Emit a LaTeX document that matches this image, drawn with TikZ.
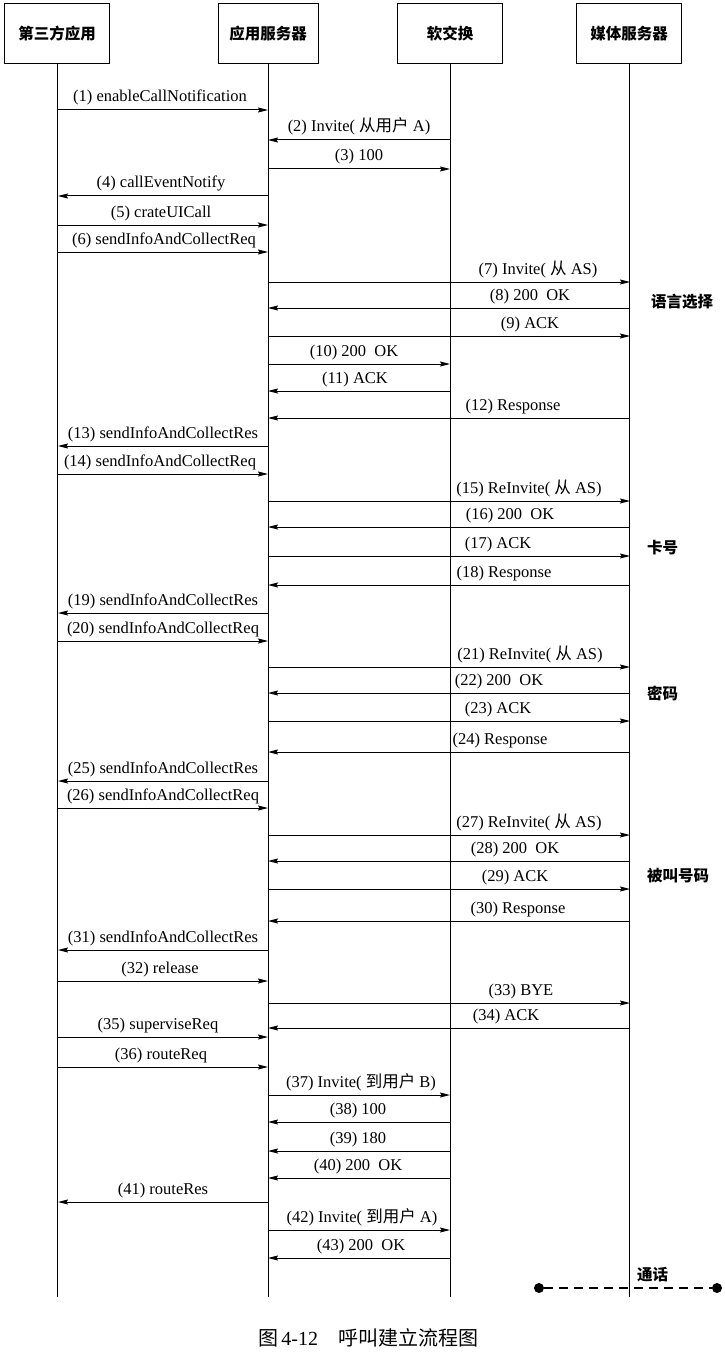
\documentclass[tikz,border=0pt]{standalone}
\usepackage{fontspec}
\setmainfont{Liberation Serif}
\newfontfamily\cjk{Noto Sans CJK SC}
\usetikzlibrary{arrows.meta}
\def\xA{58}\def\xB{268}\def\xC{450}\def\xD{630}
\newcommand\msg[6]{%
  \coordinate (s#1) at (\csname x#3\endcsname,#2);
  \coordinate (e#1) at (\csname x#4\endcsname,#2);
  \draw[msgarrow] (s#1) -- (e#1);
  \node[lbl] (t#1) at (#5,{#2-8}) {#6};
}
\tikzset{
  actor/.style={draw, line width=1pt, minimum width=105pt, minimum height=60pt, inner sep=0pt, font=\cjk\bfseries\fontsize{15.5}{18}\selectfont},
  life/.style={line width=1pt},
  msgarrow/.style={line width=1pt, -{Stealth[length=10pt,width=5pt,inset=1.5pt]}},
  lbl/.style={anchor=base, inner sep=0pt, font=\fontsize{16.5}{19}\selectfont},
  side/.style={anchor=west, inner sep=0pt, font=\cjk\bfseries\fontsize{15.5}{18}\selectfont},
  dot/.style={circle, fill=black, minimum size=10pt, inner sep=0pt},
}
\begin{document}
\begin{tikzpicture}[x=1pt,y=-1pt]
\useasboundingbox (0,0) rectangle (724,1359);
\node[actor] (A) at (57,34) {第三方应用};
\node[actor, minimum width=100pt] (B) at (268,34) {应用服务器};
\node[actor] (C) at (450,34) {软交换};
\node[actor] (D) at (629,34) {媒体服务器};
\coordinate (endy) at (0,1297);
\foreach \n in {A,B,C,D} \draw[life] (\n.south) -- (\n.south |- endy);

\msg{1}{110}{A}{B}{160}{(1) enableCallNotification}
\msg{2}{140}{C}{B}{359}{(2) Invite( {\cjk 从用户} A)}
\msg{3}{169}{B}{C}{359}{(3) 100}
\msg{4}{196}{B}{A}{161}{(4) callEventNotify}
\msg{5}{225}{A}{B}{161}{(5) crateUICall}
\msg{6}{252}{A}{B}{164}{(6) sendInfoAndCollectReq}
\msg{7}{282}{B}{D}{538}{(7) Invite( {\cjk 从} AS)}
\msg{8}{308}{D}{B}{530}{(8) 200\ \ OK}
\msg{9}{336}{B}{D}{530}{(9) ACK}
\msg{10}{364}{B}{C}{354}{(10) 200\ \ OK}
\msg{11}{391}{C}{B}{355}{(11) ACK}
\msg{12}{418}{D}{B}{513}{(12) Response}
\msg{13}{446}{B}{A}{163}{(13) sendInfoAndCollectRes}
\msg{14}{474}{A}{B}{160}{(14) sendInfoAndCollectReq}
\msg{15}{501}{B}{D}{529}{(15) ReInvite( {\cjk 从} AS)}
\msg{16}{527}{D}{B}{510}{(16) 200\ \ OK}
\msg{17}{556}{B}{D}{498}{(17) ACK}
\msg{18}{585}{D}{B}{504}{(18) Response}
\msg{19}{613}{B}{A}{163}{(19) sendInfoAndCollectRes}
\msg{20}{641}{A}{B}{163}{(20) sendInfoAndCollectReq}
\msg{21}{667}{B}{D}{530}{(21) ReInvite( {\cjk 从} AS)}
\msg{22}{693}{D}{B}{499}{(22) 200\ \ OK}
\msg{23}{721}{B}{D}{498}{(23) ACK}
\msg{24}{752}{D}{B}{500}{(24) Response}
\msg{25}{781}{B}{A}{163}{(25) sendInfoAndCollectRes}
\msg{26}{808}{A}{B}{163}{(26) sendInfoAndCollectReq}
\msg{27}{835}{B}{D}{529}{(27) ReInvite( {\cjk 从} AS)}
\msg{28}{861}{D}{B}{515}{(28) 200\ \ OK}
\msg{29}{889}{B}{D}{515}{(29) ACK}
\msg{30}{921}{D}{B}{518}{(30) Response}
\msg{31}{950}{B}{A}{163}{(31) sendInfoAndCollectRes}
\msg{32}{981}{A}{B}{160}{(32) release}
\msg{33}{1003}{B}{D}{521}{(33) BYE}
\msg{34}{1028}{D}{B}{506}{(34) ACK}
\msg{35}{1037}{A}{B}{158}{(35) superviseReq}
\msg{36}{1067}{A}{B}{161}{(36) routeReq}
\msg{37}{1095}{B}{C}{361}{(37) Invite( {\cjk 到用户} B)}
\msg{38}{1122}{C}{B}{358}{(38) 100}
\msg{39}{1151}{C}{B}{358}{(39) 180}
\msg{40}{1178}{C}{B}{358}{(40) 200\ \ OK}
\msg{41}{1202}{B}{A}{163}{(41) routeRes}
\msg{42}{1230}{B}{C}{362}{(42) Invite( {\cjk 到用户} A)}
\msg{43}{1258}{C}{B}{361}{(43) 200\ \ OK}

\node[side] (g1) at (651,302) {语言选择};
\node[side] (g2) at (647,548) {卡号};
\node[side] (g3) at (647,693) {密码};
\node[side] (g4) at (647,876) {被叫号码};
\node[side] (g5) at (637,1275) {通话};

\node[dot] (p1) at (539,1288) {};
\node[dot] (p2) at (717,1288) {};
\draw[line width=1.6pt, dash pattern=on 9pt off 6pt] (p1) -- (p2);

\node[inner sep=0pt, font=\fontsize{20}{24}\selectfont] (cap) at (368,1338) {{\cjk 图}\,4-12\hspace{1em}{\cjk 呼叫建立流程图}};
\end{tikzpicture}
\end{document}
